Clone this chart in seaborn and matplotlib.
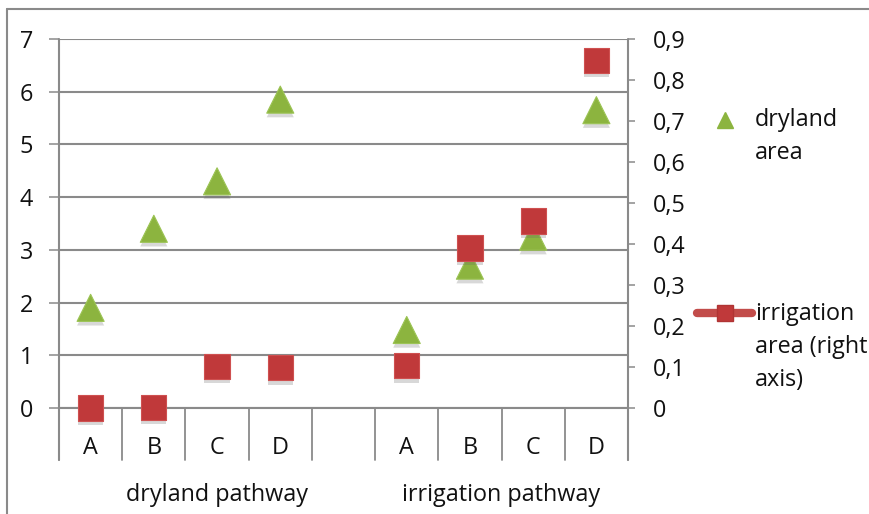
import matplotlib
matplotlib.use("Agg")
import matplotlib.pyplot as plt
import matplotlib.patheffects as pe
from matplotlib.lines import Line2D
import numpy as np
import pandas as pd
import seaborn as sns

# ---- data -------------------------------------------------------------
pathways = ["dryland pathway", "irrigation pathway"]
scenarios = ["A", "B", "C", "D"]
dryland_area_dry = [1.9, 3.4, 4.3, 5.85]      # left axis
dryland_area_irr = [1.48, 2.7, 3.25, 5.65]
irrigation_area_dry = [0.0, 0.002, 0.102, 0.098]  # right axis
irrigation_area_irr = [0.103, 0.39, 0.456, 0.848]
left_ticks = [0, 1, 2, 3, 4, 5, 6, 7]
right_ticks = [0, 0.1, 0.2, 0.3, 0.4, 0.5, 0.6, 0.7, 0.8, 0.9]
series_names = ["dryland\narea", "irrigation\narea (right\naxis)"]

GREEN = "#8cb43f"
GREEN_EDGE = "#9cc455"
RED = "#c0393a"
RED_EDGE = "#cf5050"
GRID = "#8a8a8a"
TXT = "#111111"

# one empty slot between the two pathway groups
slot = len(scenarios) + 1
rows = []
for g, (pw, dvals, ivals) in enumerate(zip(
        pathways, [dryland_area_dry, dryland_area_irr],
        [irrigation_area_dry, irrigation_area_irr])):
    for i, sc in enumerate(scenarios):
        rows.append({"pathway": pw, "scenario": sc, "pos": g * slot + i,
                     "dryland": dvals[i], "irrigation": ivals[i]})
df = pd.DataFrame(rows)
n_pos = slot + len(scenarios)  # 9 category slots
tick_labels = (scenarios + [""] + scenarios)

sns.set_theme(style="white")
plt.rcParams["font.family"] = ["Open Sans", "DejaVu Sans"]
FS = 16.8

W, H = 870, 514
fig = plt.figure(figsize=(W / 100, H / 100), dpi=100)
x0, x1 = 59, 628
y_top, y_zero = 39, 408
ax = fig.add_axes([x0 / W, (H - y_zero) / H, (x1 - x0) / W, (y_zero - y_top) / H])
ax2 = ax.twinx()

shadow = [pe.SimplePatchShadow(offset=(0, -3), shadow_rgbFace="#666666", alpha=0.25),
          pe.Normal()]

# left-axis series: triangles
sns.scatterplot(data=df, x="pos", y="dryland", marker="^", s=380, color=GREEN,
                edgecolor=GREEN_EDGE, linewidth=0.8, ax=ax, zorder=4, legend=False)
# right-axis series: squares
sns.scatterplot(data=df, x="pos", y="irrigation", marker="s", s=330, color=RED,
                edgecolor=RED_EDGE, linewidth=0.8, ax=ax2, zorder=5, legend=False)
for coll in ax.collections + ax2.collections:
    coll.set_path_effects(shadow)
    coll.set_clip_on(False)

ax.set_xlim(-0.5, n_pos - 0.5)
ax.set_ylim(0, 7)
ax2.set_ylim(0, 0.9)

# gridlines on the left scale
ax.set_yticks(left_ticks)
ax.set_yticklabels([str(t) for t in left_ticks])
ax.yaxis.grid(True, color=GRID, linewidth=1.5)
ax.xaxis.grid(False)
ax.set_axisbelow(True)
ax.tick_params(axis="y", length=7.2, width=1.1, color=GRID, pad=11.5,
               labelsize=FS, labelcolor=TXT, direction="out", left=True)

ax2.set_yticks(right_ticks)
ax2.set_yticklabels(["0" if t == 0 else f"{t:.1f}".replace(".", ",") for t in right_ticks])
ax2.tick_params(axis="y", length=5, width=1.1, color=GRID, pad=13,
                labelsize=FS, labelcolor=TXT, direction="out", right=True)
ax2.grid(False)

ax.set_xticks(range(n_pos))
ax.set_xticklabels(tick_labels)
ax.tick_params(axis="x", length=0, pad=20, labelsize=FS, labelcolor=TXT)
ax.set_xlabel("")
ax.set_ylabel("")
ax2.set_ylabel("")

for a in (ax, ax2):
    for s in a.spines.values():
        s.set_visible(False)

# axis lines and category dividers extending below the plot
depth = (460 - y_zero) / (y_zero - y_top)  # in axes fraction
trans = ax.get_xaxis_transform()
for b in np.arange(-0.5, n_pos, 1.0):
    ax.add_line(Line2D([b, b], [-depth, 0], transform=trans, color=GRID,
                       linewidth=1.3, clip_on=False))
for b in (-0.5, n_pos - 0.5):
    ax.add_line(Line2D([b, b], [-depth, 1], transform=trans, color=GRID,
                       linewidth=1.5, clip_on=False))
ax.add_line(Line2D([-0.5, n_pos - 0.5], [0, 0], transform=trans, color=GRID,
                   linewidth=1.5, clip_on=False))

# pathway group labels
group_y = -(495 - y_zero) / (y_zero - y_top)
for g, pw in enumerate(pathways):
    start = g * slot - 0.5
    end = start + (slot if g == 0 else len(scenarios))
    ax.text((start + end) / 2, group_y, pw, transform=trans, ha="center",
            va="center", fontsize=FS, color=TXT)

# outer chart frame (top and left edges)
fig.add_artist(Line2D([7 / W, 1.0], [1 - 9 / H, 1 - 9 / H], transform=fig.transFigure,
                      color=GRID, linewidth=1.5))
fig.add_artist(Line2D([7 / W, 7 / W], [0, 1 - 9 / H], transform=fig.transFigure,
                      color=GRID, linewidth=1.5))

# legend on the right
def fx(px):
    return px / W

def fy(py):
    return 1 - py / H

fig.add_artist(Line2D([fx(725)], [fy(120)], transform=fig.transFigure, marker="^",
                      markersize=11, color=GREEN, linestyle="none"))
fig.text(fx(755), fy(108), series_names[0], fontsize=FS, va="top", ha="left",
         color=TXT, linespacing=1.5)
fig.add_artist(Line2D([fx(697), fx(752)], [fy(313), fy(313)], transform=fig.transFigure,
                      color="#c24c4a", linewidth=6, solid_capstyle="round"))
fig.add_artist(Line2D([fx(725)], [fy(313)], transform=fig.transFigure, marker="s",
                      markersize=12, color=RED, markeredgecolor="#b03434", linestyle="none"))
fig.text(fx(755), fy(302), series_names[1], fontsize=FS, va="top", ha="left",
         color=TXT, linespacing=1.5)

fig.savefig("out.png", dpi=100)
